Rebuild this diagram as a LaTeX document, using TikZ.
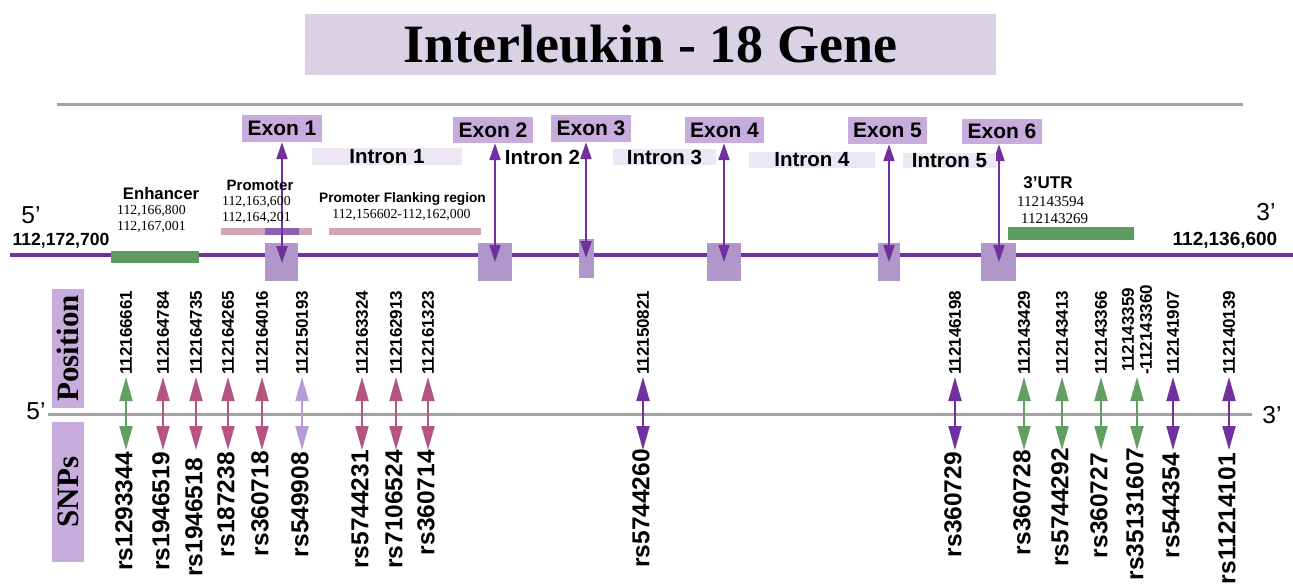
\documentclass[tikz,border=0pt]{standalone}
\usepackage{fontspec}
\setmainfont{Liberation Serif}
\setsansfont{Liberation Sans}
\usetikzlibrary{arrows.meta}

\definecolor{genepurple}{HTML}{7030A0}
\definecolor{titlebg}{HTML}{D9D1E4}
\definecolor{exonlab}{HTML}{C9ACDE}
\definecolor{exonblock}{HTML}{B196C9}
\definecolor{intronbg}{HTML}{EDE7F4}
\definecolor{rulegray}{HTML}{A3A3A3}
\definecolor{regiongreen}{HTML}{5F9B5F}
\definecolor{snpgreen}{HTML}{62A062}
\definecolor{snppink}{HTML}{B5557F}
\definecolor{snplav}{HTML}{B89BD6}
\definecolor{snppurple}{HTML}{7030A0}
\definecolor{pinkbar}{HTML}{D1A3B5}
\definecolor{promdark}{HTML}{8B62AF}

\tikzset{
  exonlabel/.style={fill=exonlab, inner sep=0pt, font=\sffamily\bfseries\fontsize{21}{24}\selectfont},
  intronlabel/.style={inner sep=0pt, font=\sffamily\bfseries\fontsize{20.5}{24}\selectfont},
  exonarrow/.style={draw=genepurple, line width=2pt,
    {Triangle[length=17pt,width=11pt]}-{Triangle[length=17pt,width=11pt]}},
  snparrow/.style={line width=2pt,
    {Triangle[length=24pt,width=13pt]}-{Triangle[length=24pt,width=13pt]}},
  poslabel/.style={rotate=90, anchor=west, inner sep=0pt, align=center,
    font=\sffamily\bfseries\fontsize{17}{18}\selectfont},
  snplabel/.style={rotate=90, anchor=east, inner sep=0pt,
    font=\sffamily\bfseries\fontsize{24.5}{26}\selectfont},
  regionname/.style={inner sep=0pt, font=\sffamily\bfseries},
  coordtext/.style={inner sep=0pt, font=\fontsize{13.8}{16}\selectfont},
  endlabel/.style={inner sep=0pt, font=\sffamily\fontsize{24.5}{26}\selectfont},
  sidebox/.style={fill=exonlab, inner sep=0pt, rotate=90,
    font=\bfseries\fontsize{31}{34}\selectfont},
}

\begin{document}
\begin{tikzpicture}[x=1pt,y=-1pt]
\useasboundingbox (0,0) rectangle (1293,584);

% ---------- title ----------
\node[fill=titlebg, inner sep=0pt, minimum width=691pt, minimum height=61pt,
      font=\bfseries\fontsize{54}{60}\selectfont] (title) at (650.5,44.5)
      {Interleukin - 18 Gene};

% ---------- top rule ----------
\coordinate (ruleL) at (57,104);
\coordinate (ruleR) at (1243,104);
\draw[rulegray, line width=3pt] (ruleL) -- (ruleR);

% ---------- gene backbone ----------
\coordinate (geneL) at (10,255);
\coordinate (geneR) at (1293,255);
\draw[genepurple, line width=4pt] (geneL) -- (geneR);

% regulatory regions
\fill[regiongreen] (111,251) rectangle (199,263);      % enhancer
\fill[pinkbar] (221,228) rectangle (312,235);          % promoter
\fill[promdark] (265,228) rectangle (299,235);
\fill[pinkbar] (329,228) rectangle (481,235);          % promoter flanking region
\fill[regiongreen] (1008,227) rectangle (1134,240);    % 3'UTR

% exon blocks on the backbone
\fill[exonblock] (265,243) rectangle (298,281);
\fill[exonblock] (478,243) rectangle (512,281);
\fill[exonblock] (579,239) rectangle (594,278);
\fill[exonblock] (707,243) rectangle (741,281);
\fill[exonblock] (878,243) rectangle (900,281);
\fill[exonblock] (981,243) rectangle (1016,281);

% exon labels
\node[exonlabel, minimum width=80pt, minimum height=27pt] (ex1) at (282,128.5) {Exon 1};
\node[exonlabel, minimum width=80pt, minimum height=26pt] (ex2) at (493,130) {Exon 2};
\node[exonlabel, minimum width=80pt, minimum height=27pt] (ex3) at (591,128.5) {Exon 3};
\node[exonlabel, minimum width=79pt, minimum height=26pt] (ex4) at (724.5,130) {Exon 4};
\node[exonlabel, minimum width=79pt, minimum height=27pt] (ex5) at (887.5,130.5) {Exon 5};
\node[exonlabel, minimum width=80pt, minimum height=25pt] (ex6) at (1002,131.5) {Exon 6};

% exon pointers
\coordinate (ea1) at (282,263);
\coordinate (ea2) at (495,262);
\coordinate (ea3) at (586,258);
\coordinate (ea4) at (724,262);
\coordinate (ea5) at (889,262);
\coordinate (ea6) at (999,262);
\foreach \i in {1,...,6}{
  \draw[exonarrow] (ex\i.south -| ea\i) -- (ea\i);
}

% intron labels
\node[intronlabel, fill=intronbg, minimum width=150pt, minimum height=17pt] (in1) at (387,156.5) {Intron 1};
\node[intronlabel] (in2) at (542.5,157) {Intron 2};
\node[intronlabel, fill=intronbg, minimum width=103pt, minimum height=16pt] (in3) at (664.5,157) {Intron 3};
\node[intronlabel, fill=intronbg, minimum width=126pt, minimum height=16pt] (in4) at (812,160) {Intron 4};
\node[intronlabel, fill=intronbg, minimum width=93pt, minimum height=15pt] (in5) at (949.5,160.5) {Intron 5};

% region names and coordinates
\node[regionname, font=\sffamily\bfseries\fontsize{16.7}{18}\selectfont] (enh) at (161,194) {Enhancer};
\node[coordtext, anchor=west] (enh1) at (117,211) {112,166,800};
\node[coordtext, anchor=west] (enh2) at (117,227) {112,167,001};

\node[regionname, font=\sffamily\bfseries\fontsize{15}{17}\selectfont] (prom) at (260,185) {Promoter};
\node[coordtext, anchor=west] (prom1) at (222,202) {112,163,600};
\node[coordtext, anchor=west] (prom2) at (222,218) {112,164,201};

\node[regionname, font=\sffamily\bfseries\fontsize{13.7}{15}\selectfont] (flank) at (402.5,199) {Promoter Flanking region};
\node[coordtext] (flank1) at (401.5,215) {112,156602-112,162,000};

\node[regionname, font=\sffamily\bfseries\fontsize{17}{19}\selectfont] (utr) at (1048,183) {3’UTR};
\node[coordtext, anchor=west, font=\fontsize{15}{17}\selectfont] (utr1) at (1017,202) {112143594};
\node[coordtext, anchor=west, font=\fontsize{15}{17}\selectfont] (utr2) at (1021,219) {112143269};

% gene ends
\node[endlabel] (five) at (31,215) {5’};
\node[regionname, font=\sffamily\bfseries\fontsize{17.6}{19}\selectfont] (startpos) at (61,241) {112,172,700};
\node[endlabel] (three) at (1266,212) {3’};
\node[regionname, font=\sffamily\bfseries\fontsize{19}{21}\selectfont] (endpos) at (1225,240) {112,136,600};

% ---------- SNP map ----------
\coordinate (snpL) at (48,414);
\coordinate (snpR) at (1252,414);
\draw[rulegray, line width=3pt] (snpL) -- (snpR);
\node[endlabel] (fiveb) at (36,411) {5’};
\node[endlabel] (threeb) at (1272,415) {3’};

\node[sidebox, minimum width=119pt, minimum height=32pt] (posbox) at (68,348.5) {Position};
\node[sidebox, minimum width=140pt, minimum height=32pt] (snpbox) at (68,492) {SNPs};

\foreach \i/\x/\pos/\rs/\col/\ty in {
  1/126/112166661/rs1293344/snpgreen/452,
  2/163/112164784/rs1946519/snppink/452,
  3/196/112164735/rs1946518/snppink/458,
  4/228/112164265/rs187238/snppink/452,
  5/262/112164016/rs360718/snppink/451,
  6/302/112150193/rs549908/snplav/452,
  7/362/112163324/rs5744231/snppink/450,
  8/396/112162913/rs7106524/snppink/450,
  9/428/112161323/rs360714/snppink/450,
  10/643/112150821/rs5744260/snppurple/449,
  11/955/112146198/rs360729/snppurple/452,
  12/1024/112143429/rs360728/snpgreen/450,
  13/1062/112143413/rs5744292/snpgreen/448,
  14/1101/112143366/rs360727/snpgreen/453,
  15/1137/{112143359\\-112143360}/rs35131607/snpgreen/448,
  16/1173/112141907/rs544354/snppurple/453,
  17/1229/112140139/rs11214101/snppurple/453}{
  \coordinate (st\i) at (\x,377);
  \coordinate (sb\i) at (\x,450);
  \draw[snparrow, color=\col] (st\i) -- (sb\i);
  \node[poslabel] (pos\i) at (\x,375) {\pos};
  \node[snplabel] (rs\i) at (\x-2,\ty) {\rs};
}
\end{tikzpicture}
\end{document}
